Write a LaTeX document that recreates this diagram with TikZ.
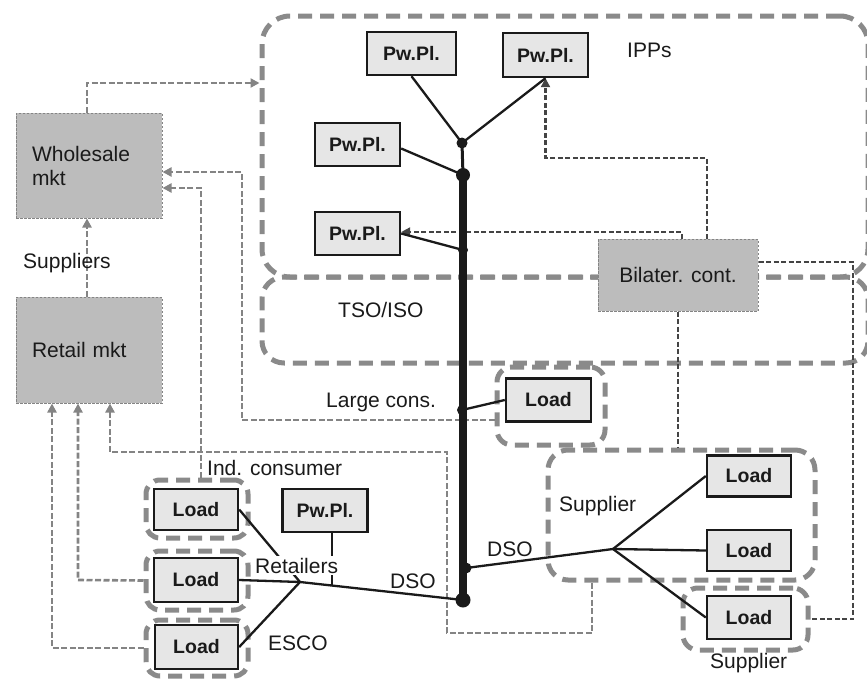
\documentclass[tikz,border=0pt]{standalone}
\usepackage{fontspec}
\setmainfont{Liberation Sans}
\usetikzlibrary{arrows.meta,calc}
\pgfdeclarelayer{back}
\pgfdeclarelayer{mid}
\pgfsetlayers{back,mid,main}
\definecolor{rgn}{HTML}{8A8A8A}
\definecolor{mktc}{HTML}{848484}
\definecolor{bilc}{HTML}{444444}
\definecolor{gfill}{HTML}{BCBCBC}
\definecolor{lfill}{HTML}{E6E6E6}
\definecolor{ink}{HTML}{1A1A1A}
\begin{document}
\begin{tikzpicture}[x=1pt,y=-1pt,
  region/.style={draw=rgn, line width=5pt, dash pattern=on 14pt off 8pt, rounded corners=#1, inner sep=0pt},
  graybox/.style={fill=gfill, draw=mktc, line width=1pt, dash pattern=on 2.5pt off 1.5pt, inner sep=0pt, text=ink, font=\fontsize{21}{24}\selectfont},
  lbox/.style={fill=lfill, draw=ink, line width=2.4pt, minimum width=85pt, minimum height=43pt, inner sep=0pt, text=ink, font=\fontsize{19.5}{22}\selectfont\bfseries},
  lbl/.style={inner sep=0pt, text=ink, font=\fontsize{21}{24}\selectfont},
  mkt/.style={draw=mktc, line width=2.6pt, dash pattern=on 6pt off 2.5pt},
  bil/.style={draw=bilc, line width=2.2pt, dash pattern=on 5pt off 2.5pt},
  tipm/.style={-{Triangle[length=9pt,width=9pt]}},
  wire/.style={draw=ink, line width=2.3pt},
  dot/.style={fill=ink}
]
\useasboundingbox (0,0) rectangle (867,680);

% ---------- regions ----------
\begin{pgfonlayer}{back}
\node[region=28pt, minimum width=606pt, minimum height=261pt] (ipp) at (565,146.5) {};
\node[region=22pt, minimum width=606pt, minimum height=86pt] (tso) at (565,320) {};
\node[region=15pt, minimum width=108pt, minimum height=78pt] (lcR) at (551,406) {};
\node[region=20pt, minimum width=267pt, minimum height=130pt] (supR) at (681.5,515) {};
\node[region=15pt, minimum width=125pt, minimum height=62pt] (supS) at (745.5,619) {};
\node[region=14pt, minimum width=102pt, minimum height=58pt] (rA) at (197,509) {};
\node[region=14pt, minimum width=102pt, minimum height=59pt] (rB) at (197,580.5) {};
\node[region=14pt, minimum width=102pt, minimum height=56pt] (rC) at (197,648) {};
\end{pgfonlayer}

% ---------- boxes ----------
\node[graybox, minimum width=146pt, minimum height=105pt, text width=114pt, inner xsep=16pt, align=left] (wh) at (89,165.5) {Wholesale\\mkt};
\node[graybox, minimum width=146pt, minimum height=106pt, text width=114pt, inner xsep=16pt, align=left] (re) at (89,350) {Retail mkt};
\node[graybox, minimum width=160pt, minimum height=72pt] (bc) at (678,275) {Bilater. cont.};

\node[lbox, minimum width=89pt] (pp1) at (411.5,53.5) {Pw.Pl.};
\node[lbox, minimum height=44pt] (pp2) at (545.5,55) {Pw.Pl.};
\node[lbox] (pp3) at (357.5,144.5) {Pw.Pl.};
\node[lbox] (pp4) at (357.5,233.5) {Pw.Pl.};
\node[lbox] (ppI) at (325,510.5) {Pw.Pl.};
\node[lbox, minimum height=43pt] (ldL) at (548.5,400) {Load};
\node[lbox, minimum width=84pt, minimum height=41pt] (ldR1) at (749,476) {Load};
\node[lbox, minimum width=84pt, minimum height=41pt] (ldR2) at (749,550.5) {Load};
\node[lbox, minimum width=84pt, minimum height=43pt] (ldR3) at (749,617.5) {Load};
\node[lbox, minimum width=84pt, minimum height=41pt] (ldA) at (196,509.5) {Load};
\node[lbox, minimum width=84pt, minimum height=44pt] (ldB) at (196,580) {Load};
\node[lbox, minimum width=83pt, minimum height=44pt] (ldC) at (196.5,647) {Load};

% ---------- bus coordinates ----------
\coordinate (j1) at (462,143);
\coordinate (b1) at (463,175);
\coordinate (b2) at (463,250);
\coordinate (b3) at (462,410);
\coordinate (b4) at (466,568);
\coordinate (b5) at (463,600);
\coordinate (jR) at (613,549);
\coordinate (jL) at (300,582);
\coordinate (jP) at (332,585);

% ---------- helper coordinates for dashed routes ----------
\coordinate (c1) at (87,83);
\coordinate (c2) at (242,420);
\coordinate (c3) at (242,172);
\coordinate (c4) at (201,188);
\coordinate (c5) at (592,633);
\coordinate (c6) at (447,452);
\coordinate (c7) at (110,452);
\coordinate (c8) at (78,580);
\coordinate (c9) at (52,648);
\coordinate (d1) at (682,232);
\coordinate (d2) at (707,158);
\coordinate (d4) at (853,262);

\begin{pgfonlayer}{mid}
% market (light gray) dashed connectors
\draw[mkt, tipm] (c1 |- wh.north) -- (c1) -- (c1 -| ipp.west);
\draw[mkt, tipm] (re.north -| c1) -- (wh.south -| c1);
\draw[mkt, tipm] (c2 -| lcR.west) -- (c2) -- (c3) -- (c3 -| wh.east);
\draw[mkt, tipm] (rA.north -| c4) -- (c4) -- (c4 -| wh.east);
\draw[mkt, tipm] (supR.south -| c5) -- (c5) -| (c6) -- (c7) -- (c7 |- re.south);
\draw[mkt, tipm] (rB.west) -- (c8) -- (c8 |- re.south);
\draw[mkt, tipm] (rC.west) -- (c9) -- (c9 |- re.south);

% bilateral (dark) dashed connectors
\draw[bil, tipm] (bc.north -| d1) -- (d1) -- (d1 -| pp4.east);
\draw[bil, tipm] (bc.north -| d2) -- (d2) -| (pp2.south);
\draw[bil] (bc.south) -- (supR.north -| bc.south);
\draw[bil] (d4 -| bc.east) -- (d4) |- (supS.east);

% solid wires
\draw[wire] (pp1.south) -- (j1);
\draw[wire] (pp2.south) -- (j1);
\draw[wire, line width=3pt] (j1) -- (b1);
\draw[wire] ([yshift=-4pt]pp3.east) -- (b1);
\draw[wire] (pp4.east) -- (b2);
\draw[draw=ink, line width=8pt] (b1) -- (b5);
\draw[wire] (b3) -- (ldL.west);
\draw[wire] (b4) -- (jR);
\draw[wire] (jR) -- (ldR1.west);
\draw[wire] (jR) -- (ldR2.west);
\draw[wire] (jR) -- (ldR3.west);
\draw[wire] (b5) -- (jL);
\draw[wire] (jL) -- (ldA.east);
\draw[wire] (jL) -- (ldB.east);
\draw[wire] (jL) -- (ldC.east);
\draw[wire] (ppI.south -| jP) -- (jP);

\fill[dot] (j1) circle (5.5pt);
\fill[dot] (b1) circle (7pt);
\fill[dot] (b2) circle (5pt);
\fill[dot] (b3) circle (5pt);
\fill[dot] (b4) circle (5.5pt);
\fill[dot] (b5) circle (7.5pt);
\end{pgfonlayer}

% ---------- labels ----------
\node[lbl, anchor=base west] (tIPP) at (627,57) {IPPs};
\node[lbl, anchor=base west] (tTSO) at (338,317) {TSO/ISO};
\node[lbl, anchor=base west] (tLC) at (326,407) {Large cons.};
\node[lbl, anchor=base west] (tSup) at (23,268) {Suppliers};
\node[lbl, anchor=base west] (tInd) at (207,475) {Ind. consumer};
\node[lbl, anchor=base west, fill=white, inner ysep=2pt] (tRet) at (255,573) {Retailers};
\node[lbl, anchor=base west] (tDSOl) at (390,588) {DSO};
\node[lbl, anchor=base west] (tESCO) at (268,650) {ESCO};
\node[lbl, anchor=base west] (tDSOr) at (487,556) {DSO};
\node[lbl, anchor=base west] (tSupR) at (559,511) {Supplier};
\node[lbl, anchor=base west] (tSupS) at (710,668) {Supplier};
\end{tikzpicture}
\end{document}
